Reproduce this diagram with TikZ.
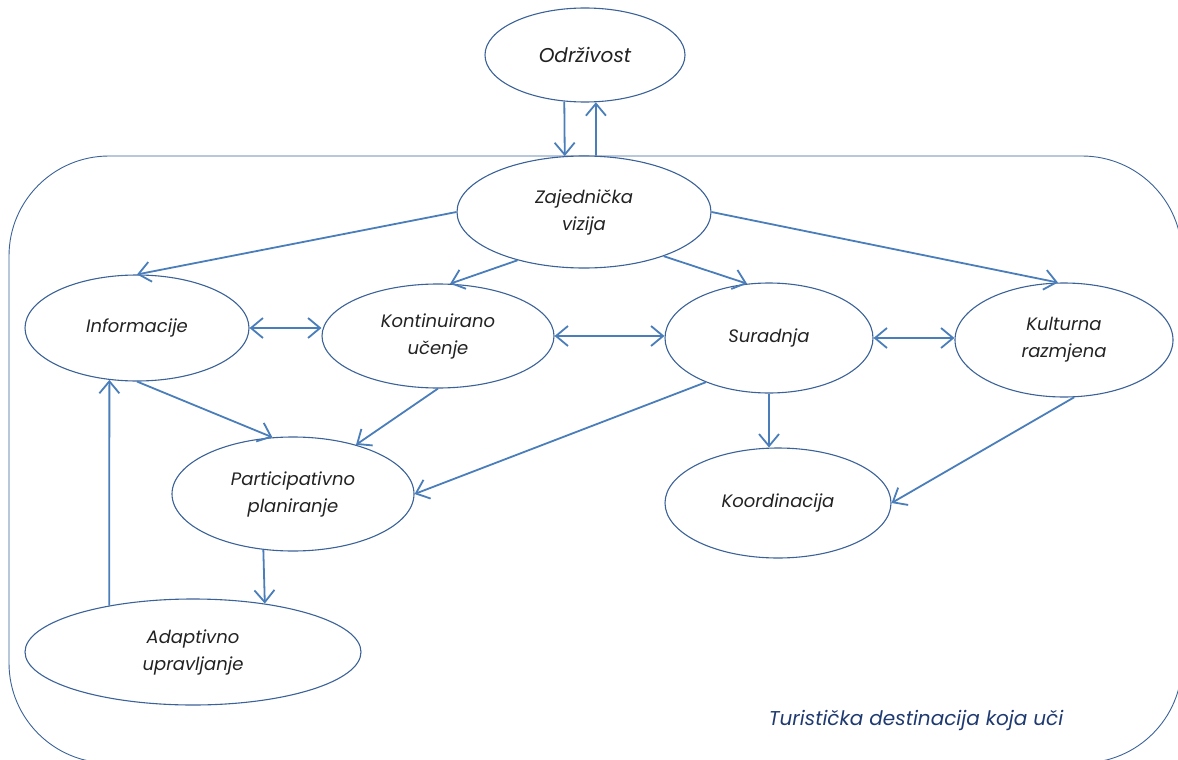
\documentclass[tikz,border=0pt]{standalone}
\usepackage{fontspec}
\setmainfont{Poppins}
\usetikzlibrary{arrows.meta,shapes.geometric}
\definecolor{arrowblue}{HTML}{4A7EBB}
\definecolor{edgeblue}{HTML}{3A6198}
\definecolor{txt}{HTML}{222222}
\definecolor{navy}{HTML}{1F3A70}
\begin{document}
\begin{tikzpicture}[x=1pt,y=-1pt,
  el/.style={ellipse,draw=edgeblue,line width=1.1pt,inner sep=0pt,
    font=\itshape\fontsize{18}{27}\selectfont,text=txt,align=center},
  arr/.style={draw=arrowblue,line width=1.8pt,-{Straight Barb[length=12pt,width=20pt]}},
  arrb/.style={draw=arrowblue,line width=1.8pt,{Straight Barb[length=12pt,width=20pt]}-{Straight Barb[length=12pt,width=20pt]}}]
\useasboundingbox (0,0) rectangle (1178,760);
\begin{scope}
\clip (0,0) rectangle (1178,760);
\draw[edgeblue,line width=0.9pt,rounded corners=100pt] (9,156) rectangle (1182,763);
\end{scope}

\node[el,minimum width=200pt,minimum height=94pt,font=\itshape\fontsize{20}{26}\selectfont] (o) at (585,55) {Održivost};
\node[el,minimum width=254pt,minimum height=112pt,fill=white] (z) at (584,212) {Zajednička\\vizija};
\node[el,minimum width=224pt,minimum height=106pt] (i) at (137,328) {Informacije};
\node[el,minimum width=232pt,minimum height=104pt] (k) at (438,336) {Kontinuirano\\učenje};
\node[el,minimum width=208pt,minimum height=110pt] (s) at (769,338) {Suradnja};
\node[el,minimum width=218pt,minimum height=114pt] (ku) at (1064,340) {Kulturna\\razmjena};
\node[el,minimum width=242pt,minimum height=114pt] (p) at (293,494) {Participativno\\planiranje};
\node[el,minimum width=226pt,minimum height=110pt] (ko) at (778,503) {Koordinacija};
\node[el,minimum width=336pt,minimum height=106pt] (a) at (193,652) {Adaptivno\\upravljanje};

\node[font=\itshape\fontsize{20}{24}\selectfont,text=navy] (cap) at (916,720) {Turistička destinacija koja uči};

\draw[arr] (o.246) -- (z.109);
\draw[arr] (z.78) -- (o.283);
\draw[arr] (z.west) -- (i.north);
\draw[arr] (z.216) -- (k.77);
\draw[arr] (z.331) -- (s.112);
\draw[arr] (z.east) -- (ku.96);
\draw[arrb] (i.east) -- (i.east -| k.west);
\draw[arrb] (k.east) -- (k.east -| s.west);
\draw[arrb] (s.east) -- (s.east -| ku.west);
\draw[arr] (i.south) -- (p.110);
\draw[arr] (k.south) -- (p.38);
\draw[arr] (s.215) -- (p.east);
\draw[arr] (s.south) -- (s.south |- ko.north);
\draw[arr] (ku.280) -- (ko.east);
\draw[arr] (p.242) -- (a.34);
\draw[arr] (a.151) -- (i.242);
\end{tikzpicture}
\end{document}
